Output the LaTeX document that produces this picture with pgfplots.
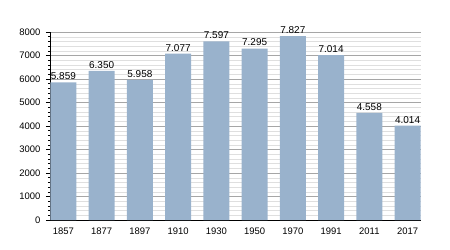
\documentclass[border=0pt]{standalone}
\usepackage{pgfplots}
\pgfplotsset{compat=1.18}
\usepackage{fontspec}
\setmainfont{Liberation Sans}
\definecolor{barblue}{HTML}{99B2CC}
\begin{document}
\begin{tikzpicture}
\path[use as bounding box] (0,0) rectangle (450bp,250bp);
\begin{axis}[
  at={(50bp,30bp)}, anchor=south west,
  scale only axis, width=371bp, height=188bp,
  xmin=-0.35, xmax=9.35, ymin=0, ymax=8000,
  axis x line*=bottom, axis y line*=left,
  axis line style={black, line width=0.8pt},
  xtick={0,...,9},
  xticklabels={1857,1877,1897,1910,1930,1950,1970,1991,2011,2017},
  xtick style={draw=none},
  ytick={0,1000,...,8000},
  minor y tick num=4,
  tick align=outside,
  major tick length=4bp, minor tick length=2bp,
  ytick style={black, line width=0.6pt},
  ymajorgrids, yminorgrids,
  major grid style={gray!70, line width=0.5pt},
  minor grid style={gray!25, line width=0.4pt},
  tick label style={font=\fontsize{9.5}{10}\selectfont},
  yticklabel style={xshift=-2bp},
  /pgf/number format/assume math mode=true,
  scaled y ticks=false,
  yticklabel style={/pgf/number format/fixed, /pgf/number format/set thousands separator={}},
  ybar, bar width=26bp,
  nodes near coords,
  point meta=explicit symbolic,
  every node near coord/.append style={font=\fontsize{10}{11}\selectfont, black, yshift=-1bp},
  clip=false,
]
\addplot[fill=barblue, draw=none] coordinates {
(0,5859) [5.859]
(1,6350) [6.350]
(2,5958) [5.958]
(3,7077) [7.077]
(4,7597) [7.597]
(5,7295) [7.295]
(6,7827) [7.827]
(7,7014) [7.014]
(8,4558) [4.558]
(9,4014) [4.014]
};
\end{axis}
\end{tikzpicture}
\end{document}
